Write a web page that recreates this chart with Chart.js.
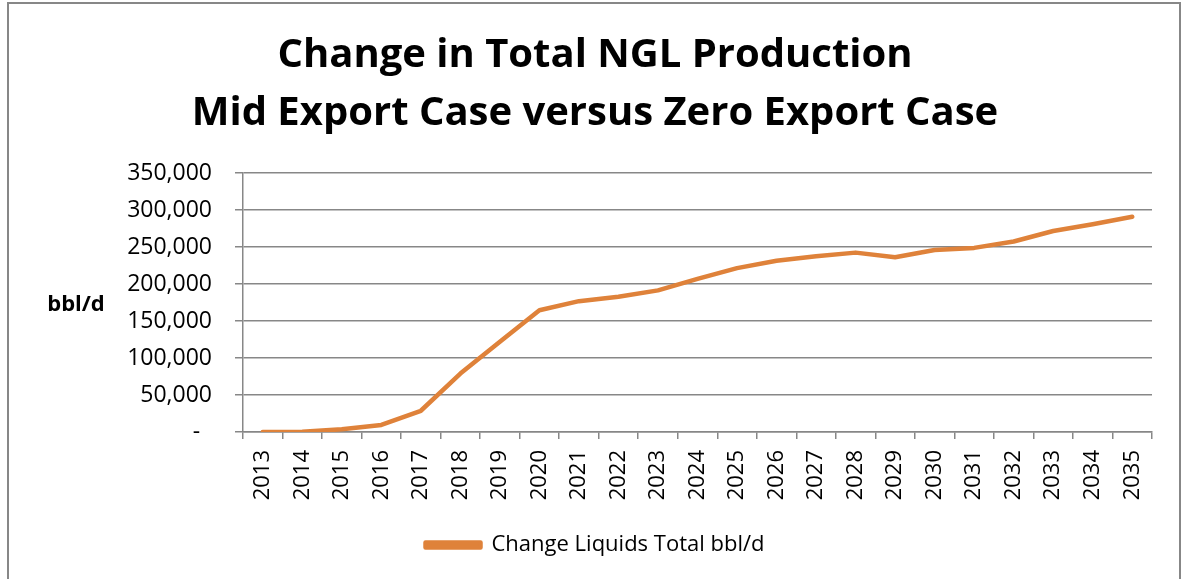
<!DOCTYPE html>
<html>
<head>
<meta charset="utf-8">
<script src="https://cdn.jsdelivr.net/npm/chart.js@4/dist/chart.umd.min.js"></script>
<style>
  html, body { margin: 0; padding: 0; background: #ffffff; overflow: hidden; }
  #frame { position: absolute; left: 7px; top: 2px; width: 1174px; height: 700px; box-sizing: border-box; border: 2px solid #878787; }
  #c { position: absolute; left: 0; top: 0; }
</style>
</head>
<body>
<div id="frame"></div>
<canvas id="c" width="1183" height="579"></canvas>
<script>
const titleLines = ["Change in Total NGL Production", "Mid Export Case versus Zero Export Case"];
const yAxisLabel = "bbl/d";
const seriesName = "Change Liquids Total bbl/d";
const years = ["2013","2014","2015","2016","2017","2018","2019","2020","2021","2022","2023","2024","2025","2026","2027","2028","2029","2030","2031","2032","2033","2034","2035"];
const changeLiquids = [0, 500, 3600, 9600, 28700, 78900, 122000, 164500, 176800, 182700, 191400, 207000, 221500, 231500, 237400, 242400, 236100, 246000, 248800, 257500, 271600, 280700, 290800];
const yMin = 0, yMax = 350000, yStep = 50000;

const FONT = "'Open Sans', 'Noto Sans', 'Liberation Sans', sans-serif";
const GRID = "#878787";
const LINE = "#DF823A";

const sideLabel = {
  id: "sideLabel",
  afterDraw(chart) {
    const a = chart.chartArea, ctx = chart.ctx;
    ctx.save();
    ctx.font = "bold 22px " + FONT;
    ctx.fillStyle = "#000";
    ctx.textAlign = "center";
    ctx.textBaseline = "middle";
    ctx.fillText(yAxisLabel, a.left - 167, (a.top + a.bottom) / 2 + 2);
    ctx.restore();
  }
};

new Chart(document.getElementById("c"), {
  type: "line",
  data: {
    labels: years,
    datasets: [{
      label: seriesName,
      data: changeLiquids,
      borderColor: LINE,
      backgroundColor: LINE,
      borderWidth: 4.5,
      borderCapStyle: "round",
      borderJoinStyle: "round",
      pointRadius: 0,
      tension: 0,
      fill: false
    }]
  },
  options: {
    responsive: false,
    devicePixelRatio: 1,
    animation: false,
    layout: { padding: { left: 7, right: 0, top: 0, bottom: 13 } },
    plugins: {
      title: {
        display: true,
        text: titleLines,
        color: "#000",
        font: { family: FONT, size: 40, weight: "bold", lineHeight: "58px" },
        padding: { top: 27, bottom: 30 }
      },
      legend: {
        display: true,
        position: "bottom",
        labels: {
          color: "#000",
          font: { family: FONT, size: 22 },
          boxWidth: 55,
          boxHeight: 5,
          padding: 14
        }
      },
      tooltip: { enabled: false }
    },
    scales: {
      x: {
        type: "category",
        offset: true,
        afterFit(scale) { scale.height = 88; },
        grid: { display: true, offset: true, drawOnChartArea: false, drawTicks: true, tickLength: 7, tickColor: GRID, color: GRID, lineWidth: 1.5 },
        border: { display: true, color: GRID, width: 1.5 },
        ticks: { color: "#000", font: { family: FONT, size: 22 }, maxRotation: 90, minRotation: 90, padding: 11, autoSkip: false }
      },
      y: {
        min: yMin,
        max: yMax,
        afterFit(scale) { scale.width = 236; },
        grid: { color: GRID, lineWidth: 1.5, tickLength: 8, tickColor: GRID, drawTicks: true },
        border: { display: true, color: GRID, width: 1.5 },
        ticks: {
          stepSize: yStep,
          color: "#000",
          padding: 23,
          font: { family: FONT, size: 23 },
          callback: (v) => v === 0 ? "-  " : v.toLocaleString("en-US")
        }
      },
      yRight: {
        position: "right",
        min: yMin,
        max: yMax,
        display: true,
        afterFit(scale) { scale.width = 31; },
        grid: { display: false, drawOnChartArea: false },
        border: { display: false },
        ticks: { display: false }
      }
    }
  },
  plugins: [sideLabel]
});
</script>
</body>
</html>
